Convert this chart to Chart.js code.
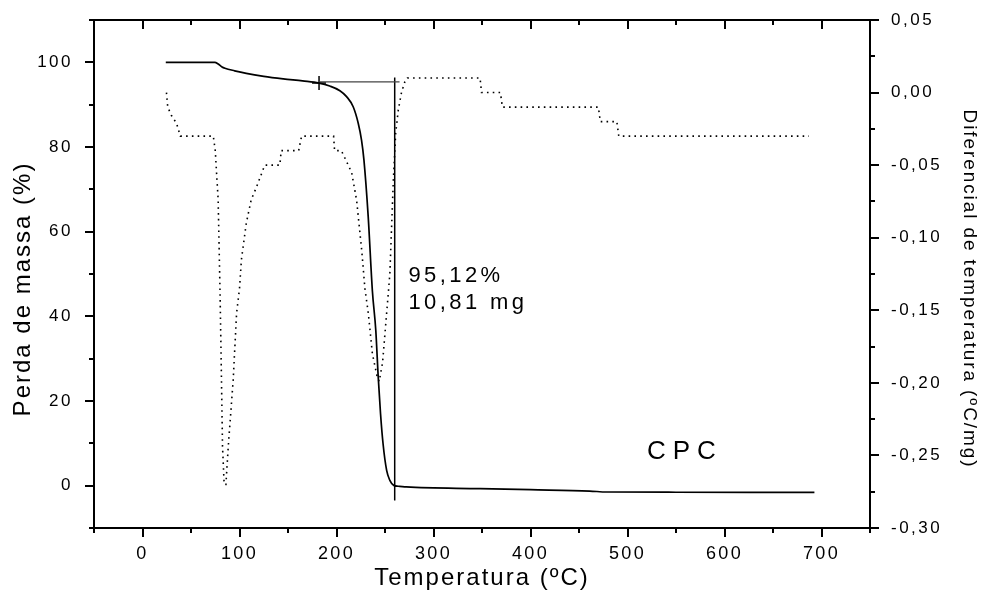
<!DOCTYPE html>
<html>
<head>
<meta charset="utf-8">
<script src="https://cdn.jsdelivr.net/npm/chart.js@4.4.1/dist/chart.umd.min.js"></script>
<style>
  html, body { margin: 0; padding: 0; background: #fff; }
  canvas { display: block; }
</style>
</head>
<body>
<canvas id="tgaChart" width="984" height="592"></canvas>
<script>
// TG curve: temperature (ºC) vs mass (%)
const tgTemp = [24, 74.6, 78, 82, 85, 95, 107, 125, 145, 165, 182, 193, 203.5, 210.4, 217.2, 222.4, 225.8, 228.3, 232.7, 237, 240.5, 243, 245.4, 248, 251.7, 255, 259, 265, 272, 348, 400, 461, 478.6, 550, 692.7];
const tgMass = [100, 100, 99.6, 98.9, 98.6, 98.0, 97.4, 96.7, 96.1, 95.6, 95.1, 94.4, 93.3, 91.9, 89.5, 85.6, 81.6, 76.9, 63.5, 46, 36.7, 25.7, 17, 9.9, 3.6, 1.25, 0.07, -0.15, -0.3, -0.7, -0.95, -1.27, -1.5, -1.55, -1.58];

// DTG curve (dotted, right axis)
const dtgTemp = [24.7, 26, 30, 35, 39, 73, 75, 78, 80, 81, 82.5, 84.2, 86, 88.4, 93.5, 97, 100, 102, 107, 112, 117.6, 126, 141.6, 143, 161, 164, 197, 198, 205, 210, 215.6, 220.7, 225.9, 229.3, 232.8, 237, 242, 244, 247.5, 251.7, 255, 258.5, 261, 263.7, 267, 270.5, 273, 348, 349.5, 369, 371, 470, 472, 489, 491, 687];
const dtgValue = [0.000, -0.010, -0.016, -0.021, -0.030, -0.030, -0.040, -0.074, -0.140, -0.180, -0.244, -0.270, -0.270, -0.244, -0.198, -0.152, -0.135, -0.115, -0.090, -0.074, -0.065, -0.050, -0.050, -0.040, -0.040, -0.030, -0.030, -0.040, -0.040, -0.047, -0.055, -0.074, -0.108, -0.135, -0.152, -0.180, -0.196, -0.199, -0.186, -0.152, -0.125, -0.062, -0.028, -0.012, 0.000, 0.0075, 0.010, 0.010, 0.000, 0.000, -0.010, -0.010, -0.020, -0.020, -0.030, -0.030];

// onset construction lines
const onsetTemp = [182, 265];
const onsetMass = [95.4, 95.4];
const endTemp = [260, 260];
const endMass = [96.4, -3.5];
const markTemp = [182];
const markMass = [95.1];

// axis ticks
const xTicks = [0, 100, 200, 300, 400, 500, 600, 700];
const xMinor = [-50, 50, 150, 250, 350, 450, 550, 650, 750];
const yTicks = [0, 20, 40, 60, 80, 100];
const yMinor = [-10, 10, 30, 50, 70, 90, 110];
const y1Ticks = [0.05, 0, -0.05, -0.10, -0.15, -0.20, -0.25, -0.30];
const y1Minor = [0.025, -0.025, -0.075, -0.125, -0.175, -0.225, -0.275];

// text notes in data coordinates
const noteText = ['95,12%', '10,81 mg', 'CPC'];
const noteTemp = [274.2, 274.2, 520];
const noteMass = [48.1, 41.8, 6.4];

const FONT = '"Liberation Sans", Arial, Helvetica, sans-serif';
const pts = (xs, ys) => xs.map((v, i) => ({ x: v, y: ys[i] }));

const spacing = { x: ['2.3px', '2px'], y: ['2.5px', '2px'], y1: ['2.5px', '1.9px'] };
const titleShift = { x: 0, y: 15, y1: 15 };

// no automatic label overhang padding: the plot frame is fixed
const noPad = s => { s.paddingTop = 0; s.paddingBottom = 0; s.paddingLeft = 0; s.paddingRight = 0; };

const letterSpacer = {
  id: 'letterSpacer',
  beforeDraw(chart) {
    Object.values(chart.scales).forEach(s => {
      if (s._spaced) return;
      s._spaced = true;
      const [tickSp, titleSp] = spacing[s.id];
      const drawLabels = s.drawLabels, drawTitle = s.drawTitle;
      s.drawLabels = function (area) {
        this.ctx.save();
        this.ctx.letterSpacing = tickSp;
        drawLabels.call(this, area);
        this.ctx.restore();
      };
      s.drawTitle = function () {
        this.ctx.save();
        this.ctx.letterSpacing = titleSp;
        this.ctx.translate(0, titleShift[this.id]);
        drawTitle.call(this);
        this.ctx.restore();
      };
    });
  }
};

const tickMarks = {
  id: 'tickMarks',
  afterDraw(chart) {
    const { ctx, chartArea: a, scales: { x, y, y1 } } = chart;
    ctx.save();
    ctx.strokeStyle = '#000';
    ctx.lineWidth = 2;
    ctx.beginPath();
    ctx.moveTo(a.left - 1, a.top);
    ctx.lineTo(a.right + 1, a.top);
    const xt = (list, down, up) => list.forEach(v => {
      const p = Math.round(x.getPixelForValue(v));
      ctx.moveTo(p, a.bottom); ctx.lineTo(p, a.bottom + down);
      ctx.moveTo(p, a.top); ctx.lineTo(p, a.top + up);
    });
    xt(xTicks, 9, 9);
    xt(xMinor, 5, 5);
    yTicks.forEach(v => { const p = Math.round(y.getPixelForValue(v)); ctx.moveTo(a.left, p); ctx.lineTo(a.left - 9, p); });
    yMinor.forEach(v => { const p = Math.round(y.getPixelForValue(v)); ctx.moveTo(a.left, p); ctx.lineTo(a.left - 5, p); });
    y1Ticks.forEach(v => { const p = Math.round(y1.getPixelForValue(v)); ctx.moveTo(a.right, p); ctx.lineTo(a.right + 9, p); });
    y1Minor.forEach(v => { const p = Math.round(y1.getPixelForValue(v)); ctx.moveTo(a.right, p); ctx.lineTo(a.right + 5, p); });
    ctx.stroke();

    ctx.fillStyle = '#000';
    ctx.textBaseline = 'alphabetic';
    ctx.textAlign = 'left';
    noteText.forEach((t, i) => {
      const big = t === 'CPC';
      ctx.font = (big ? 26 : 22) + 'px ' + FONT;
      ctx.letterSpacing = big ? '7px' : '3.4px';
      ctx.fillText(t, x.getPixelForValue(noteTemp[i]), y.getPixelForValue(noteMass[i]));
    });
    ctx.restore();
  }
};

const tickFont = { family: FONT, size: 17 };

new Chart(document.getElementById('tgaChart'), {
  type: 'line',
  data: {
    datasets: [
      {
        data: pts(tgTemp, tgMass),
        yAxisID: 'y',
        borderColor: '#000',
        borderWidth: 1.7,
        pointRadius: 0,
        cubicInterpolationMode: 'monotone'
      },
      {
        data: pts(dtgTemp, dtgValue),
        yAxisID: 'y1',
        borderColor: '#000',
        borderWidth: 1.6,
        borderDash: [1.6, 4.2],
        pointRadius: 0,
        tension: 0
      },
      {
        data: pts(onsetTemp, onsetMass),
        yAxisID: 'y',
        borderColor: '#444',
        borderWidth: 1.3,
        pointRadius: 0
      },
      {
        data: pts(endTemp, endMass),
        yAxisID: 'y',
        borderColor: '#000',
        borderWidth: 1.5,
        pointRadius: 0
      },
      {
        data: pts(markTemp, markMass),
        yAxisID: 'y',
        showLine: false,
        pointStyle: 'cross',
        pointRadius: 7,
        pointBorderColor: '#000',
        pointBorderWidth: 1.5
      }
    ]
  },
  options: {
    responsive: false,
    animation: false,
    layout: { padding: { top: 20, left: 0, right: 0, bottom: 0 } },
    plugins: { legend: { display: false }, tooltip: { enabled: false } },
    scales: {
      x: {
        type: 'linear',
        position: 'bottom',
        min: -50,
        max: 750,
        afterBuildTicks: s => { s.ticks = xTicks.map(v => ({ value: v })); },
        afterFit: s => { s.height = 64; noPad(s); },
        grid: { drawOnChartArea: false, drawTicks: false },
        border: { color: '#000', width: 2 },
        ticks: { font: { family: FONT, size: 18 }, color: '#000', padding: 15, maxRotation: 0, autoSkip: false },
        title: {
          display: true,
          text: 'Temperatura (ºC)',
          color: '#000',
          font: { family: FONT, size: 24, lineHeight: 1 },
          padding: { top: 0, bottom: 2 }
        }
      },
      y: {
        type: 'linear',
        position: 'left',
        min: -10,
        max: 110,
        afterBuildTicks: s => { s.ticks = yTicks.map(v => ({ value: v })); },
        afterFit: s => { s.width = 94; noPad(s); },
        grid: { drawOnChartArea: false, drawTicks: false },
        border: { color: '#000', width: 2 },
        ticks: { font: tickFont, color: '#000', padding: 21, autoSkip: false },
        title: {
          display: true,
          text: 'Perda de massa (%)',
          color: '#000',
          font: { family: FONT, size: 24, lineHeight: 1 },
          padding: { top: 11, bottom: 0 }
        }
      },
      y1: {
        type: 'linear',
        position: 'right',
        min: -0.30,
        max: 0.05,
        afterBuildTicks: s => { s.ticks = y1Ticks.map(v => ({ value: v })); },
        afterFit: s => { s.width = 114; noPad(s); },
        grid: { drawOnChartArea: false, drawTicks: false },
        border: { color: '#000', width: 2 },
        ticks: {
          font: tickFont,
          color: '#000',
          padding: 21,
          autoSkip: false,
          callback: v => (Math.abs(v) < 1e-9 ? 0 : v).toFixed(2).replace('.', ',')
        },
        title: {
          display: true,
          text: 'Diferencial de temperatura (ºC/mg)',
          color: '#000',
          font: { family: FONT, size: 19, lineHeight: 1 },
          padding: { top: 5, bottom: 0 }
        }
      }
    }
  },
  plugins: [letterSpacer, tickMarks]
});
</script>
</body>
</html>
